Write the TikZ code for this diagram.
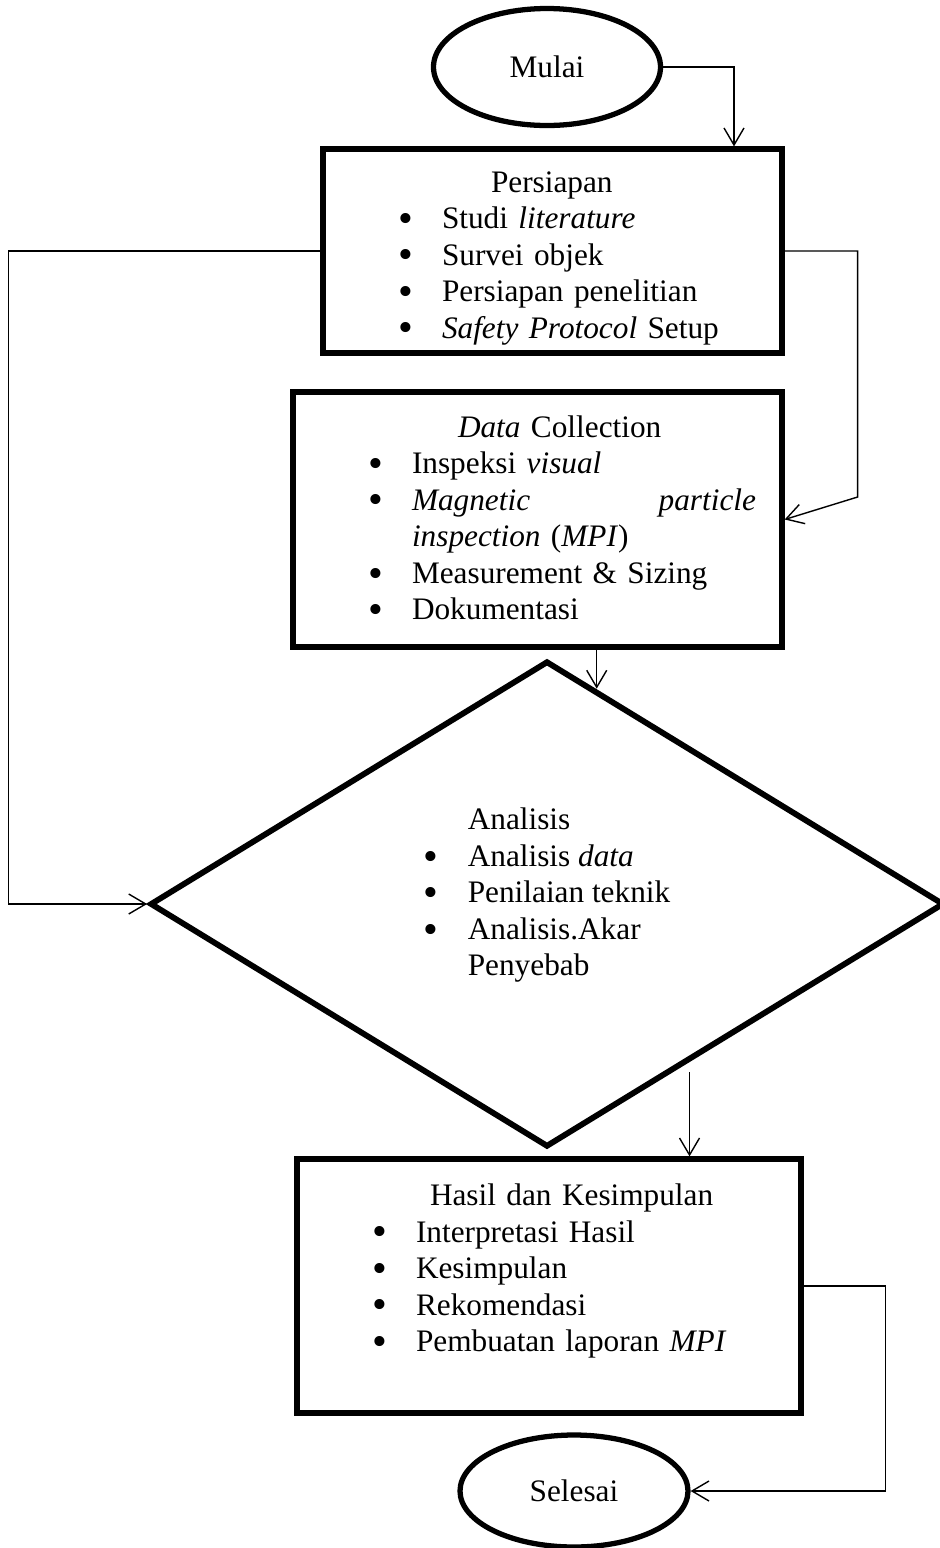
\documentclass[tikz,border=0pt]{standalone}
\usepackage{fontspec}
\setmainfont{Liberation Serif}
\usetikzlibrary{arrows.meta, shapes.geometric}
\newcommand{\flowfont}{\fontsize{17.8}{20.8}\selectfont}
\newcommand{\bul}{\makebox[0.88cm][l]{\raisebox{-0.12em}{\scalebox{1.35}{\textbullet}}}}
\newcommand{\ind}{\hspace*{1.5cm}}

\begin{document}
\begin{tikzpicture}[
  box/.style={draw, line width=3pt, rectangle, inner sep=0pt, align=left,
    text width=#1, minimum width=#1, font=\flowfont},
  term/.style={draw, line width=3pt, ellipse, inner sep=0pt, font=\flowfont},
  dec/.style={draw, line width=3.3pt, diamond, inner sep=0pt, align=left,
    font=\flowfont},
  conn/.style={line width=0.8pt, -{Straight Barb[length=0.34cm, width=0.4cm]}}
]
\useasboundingbox (0,0) rectangle (18.78,-30.96);

% Start
\node[term, minimum width=4.54cm, minimum height=2.34cm] (mulai) at (10.94,-1.34) {Mulai};

% Persiapan
\node[box=9.18cm, minimum height=4.08cm] (prep) at (11.05,-5.02)
  {\rule{0pt}{0.7cm}\hspace*{3.36cm}Persiapan\\
   \ind\bul Studi \textit{literature}\\
   \ind\bul Survei objek\\
   \ind\bul Persiapan penelitian\\
   \ind\bul \textit{Safety Protocol} Setup};

% Data Collection
\node[box=9.78cm, minimum height=5.10cm] (coll) at (10.75,-10.39)
  {\hspace*{3.3cm}\textit{Data} Collection\\
   \ind\bul Inspeksi \textit{visual}\\
   \ind\bul\makebox[6.88cm][s]{\textit{Magnetic}\hfill\textit{particle}}\\
   \ind\hspace*{0.88cm}\textit{inspection} (\textit{MPI})\\
   \ind\bul Measurement \& Sizing\\
   \ind\bul Dokumentasi};

% Analisis
\node[dec, minimum width=15.88cm, minimum height=9.72cm] (anl) at (10.94,-18.08)
  {\hspace*{0.88cm}Analisis\\
   \bul Analisis \textit{data}\\
   \bul Penilaian teknik\\
   \bul Analisis.Akar\\
   \hspace*{0.88cm}Penyebab\\[-0.25cm]
   {}};

% Hasil dan Kesimpulan
\node[box=10.08cm, minimum height=5.08cm] (hasil) at (10.98,-25.72)
  {\hspace*{2.66cm}Hasil dan Kesimpulan\\
   \ind\bul Interpretasi Hasil\\
   \ind\bul Kesimpulan\\
   \ind\bul Rekomendasi\\
   \ind\bul Pembuatan laporan \textit{MPI}\\
   \mbox{}};

% End
\node[term, minimum width=4.56cm, minimum height=2.24cm] (selesai) at (11.48,-29.82) {Selesai};

% Connectors
\draw[conn] (mulai.east) -| ([xshift=3.63cm]prep.north);
\draw[conn] (prep.west) -- ++(-6.24,0) |- (anl.west);
\draw[conn] (prep.east) -- ++(1.46,0) -- ++(0,-4.92) -- (coll.east);
\draw[conn] (anl.77 |- coll.south) -- (anl.77);
\draw[conn, shorten <=0.2cm] (anl.-48) -- (anl.-48 |- hasil.north);
\draw[conn] (hasil.east) -- ++(1.64,0) |- (selesai.east);

\end{tikzpicture}
\end{document}
